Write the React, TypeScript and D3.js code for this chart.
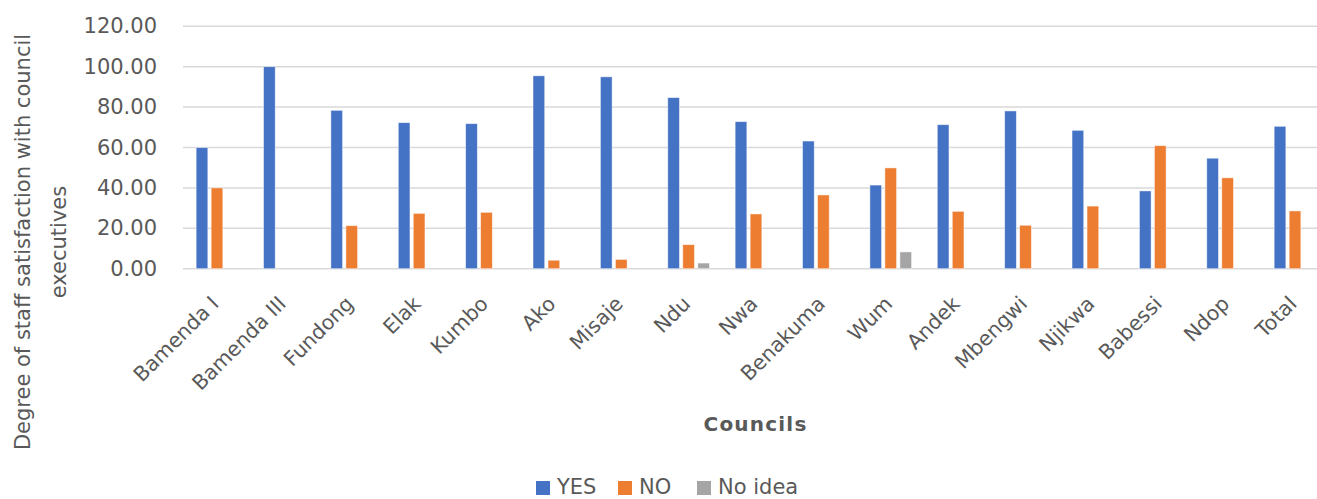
import React from "react";
import * as d3 from "d3";

const categories = ["Bamenda I","Bamenda III","Fundong","Elak","Kumbo","Ako","Misaje","Ndu","Nwa","Benakuma","Wum","Andek","Mbengwi","Njikwa","Babessi","Ndop","Total"];
const yesValues = [60.0,100.0,78.4,72.3,71.8,95.5,95.0,84.7,72.8,63.2,41.4,71.3,78.1,68.5,38.5,54.7,70.5];
const noValues = [40.0,0,21.3,27.4,27.9,4.2,4.6,11.9,27.1,36.5,49.9,28.4,21.5,31.0,60.9,45.0,28.6];
const noIdeaValues = [0,0,0,0,0,0,0,2.8,0,0,8.3,0,0,0,0,0,0];
const seriesNames = ["YES","NO","No idea"];
const seriesColors = ["#4472C4","#ED7D31","#A5A5A5"];
const yTicks = [0,20,40,60,80,100,120];

const W = 1317, H = 499;
const FONT = "'DejaVu Sans', sans-serif";
const TEXT = "#595959";

export default function App() {
  const x = d3.scaleBand<string>().domain(categories).range([183.3, 1328.7]).paddingInner(0.332).paddingOuter(0.166);
  const x1 = d3.scaleBand<string>().domain(seriesNames).range([0, x.bandwidth()]);
  const y = d3.scaleLinear().domain([0,120]).range([268.7, 26.3]);
  const series = [yesValues, noValues, noIdeaValues];
  const barInset = 1.65;

  return (
    <svg width={W} height={H} style={{position:"absolute", left:0, top:0}} fontFamily={FONT}>
      <rect x={0} y={0} width={W} height={H} fill="#fff" />
      {yTicks.map(t => (
        <g key={t}>
          <line x1={183} x2={1330} y1={y(t)} y2={y(t)} stroke="#D9D9D9" strokeWidth={1.5} />
          <text x={157} y={y(t)} textAnchor="end" dominantBaseline="central" fontSize={21} fill={TEXT}>{t.toFixed(2)}</text>
        </g>
      ))}
      {categories.map((c, i) => (
        <g key={c} transform={`translate(${x(c)},0)`}>
          {series.map((vals, s) => vals[i] > 0 ? (
            <rect key={s} x={(x1(seriesNames[s]) as number) + barInset} width={x1.bandwidth() - 2*barInset}
              y={y(vals[i])} height={y(0) - y(vals[i])} fill={seriesColors[s]}
              stroke="#ffffff" strokeOpacity={0.6} strokeWidth={0.8} />
          ) : null)}
        </g>
      ))}
      {categories.map(c => {
        const cx = (x(c) as number) + x.bandwidth()/2;
        return (
          <text key={c} transform={`translate(${cx + 3},${305}) rotate(-45)`} textAnchor="end" fontSize={20.5} fill={TEXT}>{c}</text>
        );
      })}
      <text transform={`translate(30,242) rotate(-90)`} textAnchor="middle" fontSize={21} fill={TEXT}>Degree of staff satisfaction with council</text>
      <text transform={`translate(66,242) rotate(-90)`} textAnchor="middle" fontSize={21} fill={TEXT}>executives</text>
      <text x={755.5} y={430.5} textAnchor="middle" fontSize={20} fontWeight="bold" letterSpacing={1.2} fill={TEXT}>Councils</text>
      {seriesNames.map((n, s) => {
        const lx = [536, 618, 697][s];
        return (
          <g key={n}>
            <rect x={lx} y={481} width={14} height={14} fill={seriesColors[s]} />
            <text x={lx + 21} y={494} fontSize={21} fill={TEXT}>{n}</text>
          </g>
        );
      })}
    </svg>
  );
}
